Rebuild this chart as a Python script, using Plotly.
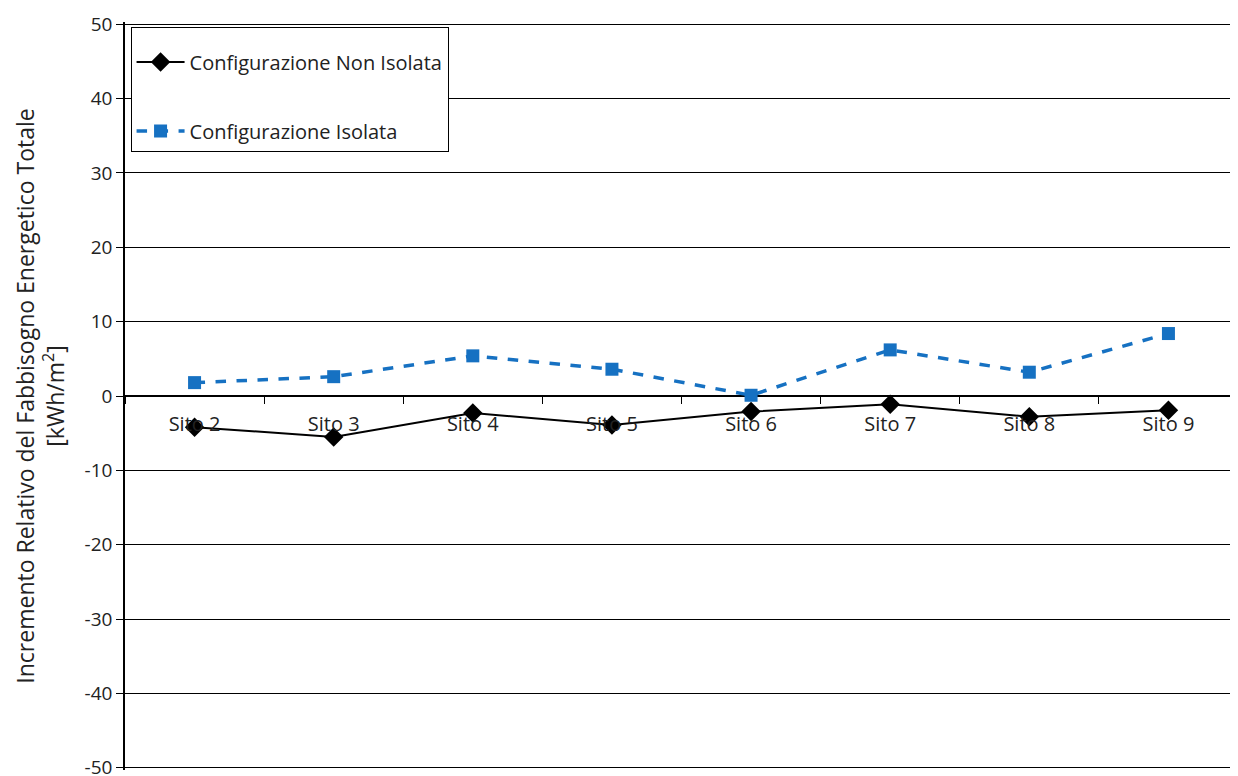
import plotly.graph_objects as go

categories = ["Sito 2", "Sito 3", "Sito 4", "Sito 5", "Sito 6", "Sito 7", "Sito 8", "Sito 9"]
non_isolata = [-4.2, -5.5, -2.3, -3.9, -2.1, -1.1, -2.8, -1.9]
isolata = [1.8, 2.6, 5.4, 3.6, 0.1, 6.2, 3.2, 8.4]
y_ticks = [50, 40, 30, 20, 10, 0, -10, -20, -30, -40, -50]
y_tick_labels = ["50", "40", "30", "20", "10", "0", "-10", "-20", "-30", "-40", "-50"]

FONT = "Open Sans"
TXT = "#222"

fig = go.Figure()
fig.add_trace(go.Scatter(
    x=categories, y=non_isolata, name="Configurazione Non Isolata",
    mode="lines+markers", legendgroup="a",
    line=dict(color="black", width=2),
    marker=dict(symbol="diamond", size=15, color="black"),
))
fig.add_trace(go.Scatter(
    x=categories, y=isolata, name="Configurazione Isolata",
    mode="lines+markers", legendgroup="b",
    line=dict(color="#1671C2", width=3.5, dash="dash"),
    marker=dict(symbol="square", size=13, color="#1671C2"),
))

fig.update_layout(
    width=1230, height=768,
    margin=dict(l=117, r=0, t=14, b=6),
    plot_bgcolor="white", paper_bgcolor="white",
    font=dict(family=FONT, color=TXT, size=18),
    showlegend=True,
    legend=dict(
        x=0.005, y=0.993, xanchor="left", yanchor="top",
        bordercolor="black", borderwidth=1, bgcolor="white",
        font=dict(size=20, family=FONT, color=TXT),
        title=dict(text=" ", font=dict(size=11)),
        tracegroupgap=40, traceorder="grouped",
        itemwidth=48,
    ),
    xaxis=dict(
        type="category", anchor="free", position=0.5,
        showline=False,
        ticks="outside", tickson="boundaries", ticklen=7, tickcolor="black",
        ticklabelstandoff=14,
        showgrid=False, zeroline=False,
        tickfont=dict(size=20, family=FONT, color=TXT),
        range=[-0.5, 7.5],
    ),
    yaxis=dict(
        range=[-50.3, 50.3], tickvals=y_ticks, ticktext=y_tick_labels,
        showline=True, linecolor="black", linewidth=1.5,
        ticks="outside", ticklen=7, tickcolor="black",
        showgrid=True, gridcolor="black", gridwidth=1,
        zeroline=True, zerolinecolor="black", zerolinewidth=1.5,
        ticklabeloverflow="allow", automargin=False,
        tickfont=dict(size=19, family=FONT, color=TXT),
        title=dict(
            text="Incremento Relativo del Fabbisogno Energetico Totale<br>[kWh/m<sup>2</sup>]",
            font=dict(size=23, family=FONT, color=TXT),
            standoff=14,
        ),
    ),
)

fig.write_html("out.html")
